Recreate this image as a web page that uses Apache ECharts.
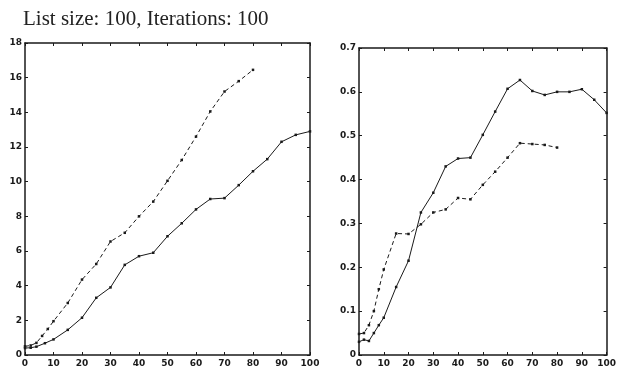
<!DOCTYPE html>
<html>
<head>
<meta charset="utf-8">
<script src="https://cdn.jsdelivr.net/npm/echarts@6/dist/echarts.min.js"></script>
<style>
    html, body { margin: 0; padding: 0; background: #fff; }
    #chart { width: 619px; height: 371px; }
</style>
</head>
<body>
<div id="chart"></div>
<script>
// 左图：运行时间
const leftSolidX = [0, 2, 4, 7, 10, 15, 20, 25, 30, 35, 40, 45, 50, 55, 60, 65, 70, 75, 80, 85, 90, 95, 100];
const leftSolidY = [0.4, 0.42, 0.48, 0.68, 0.9, 1.45, 2.15, 3.3, 3.9, 5.2, 5.7, 5.9, 6.85, 7.6, 8.4, 9.0, 9.05, 9.8, 10.6, 11.3, 12.3, 12.7, 12.9];
const leftDashX = [0, 2, 4, 6, 8, 10, 15, 20, 25, 30, 35, 40, 45, 50, 55, 60, 65, 70, 75, 80];
const leftDashY = [0.5, 0.55, 0.7, 1.1, 1.5, 1.95, 3.0, 4.35, 5.25, 6.55, 7.05, 8.0, 8.85, 10.05, 11.25, 12.6, 14.05, 15.2, 15.8, 16.45];

// 右图
const rightSolidX = [0, 2, 4, 6, 8, 10, 15, 20, 25, 30, 35, 40, 45, 50, 55, 60, 65, 70, 75, 80, 85, 90, 95, 100];
const rightSolidY = [0.03, 0.035, 0.032, 0.05, 0.068, 0.085, 0.155, 0.215, 0.325, 0.37, 0.43, 0.448, 0.45, 0.502, 0.555, 0.607, 0.627, 0.602, 0.593, 0.6, 0.6, 0.606, 0.582, 0.552];
const rightDashX = [0, 2, 4, 6, 8, 10, 15, 20, 25, 30, 35, 40, 45, 50, 55, 60, 65, 70, 75, 80];
const rightDashY = [0.048, 0.05, 0.068, 0.1, 0.15, 0.195, 0.277, 0.276, 0.298, 0.325, 0.332, 0.358, 0.355, 0.388, 0.418, 0.45, 0.483, 0.481, 0.479, 0.473];

const titleText = 'List size: 100, Iterations: 100';

const pairs = (xs, ys) => xs.map((x, i) => [x, ys[i]]);

const ink = '#1a1a1a';
const labelFont = { fontFamily: 'DejaVu Sans', fontWeight: 'bold', fontSize: 9, color: ink };

const xAxisFor = (gridIndex, position, showLabel) => ({
    type: 'value',
    gridIndex,
    position,
    min: 0,
    max: 100,
    interval: 10,
    axisLine: { show: true, onZero: false, lineStyle: { color: ink, width: 1.5 } },
    axisTick: { show: true, inside: true, length: 3, lineStyle: { color: ink } },
    axisLabel: Object.assign({ show: showLabel, margin: 4 }, labelFont),
    splitLine: { show: false },
});

const yAxisFor = (gridIndex, position, max, interval, showLabel) => ({
    type: 'value',
    gridIndex,
    position,
    min: 0,
    max,
    interval,
    axisLine: { show: true, onZero: false, lineStyle: { color: ink, width: 1.5 } },
    axisTick: { show: true, inside: true, length: 3, lineStyle: { color: ink } },
    axisLabel: Object.assign({ show: showLabel, margin: 3 }, labelFont),
    splitLine: { show: false },
});

const lineSeries = (xi, yi, data, dashed) => ({
    type: 'line',
    xAxisIndex: xi,
    yAxisIndex: yi,
    data,
    symbol: 'rect',
    symbolSize: 2.5,
    showSymbol: true,
    itemStyle: { color: ink },
    lineStyle: { color: ink, width: 1, type: dashed ? [4, 3] : 'solid' },
    animation: false,
});

const myChart = echarts.init(document.getElementById('chart'));
myChart.setOption({
    backgroundColor: '#fff',
    animation: false,
    title: {
        text: titleText,
        left: 18,
        top: 4,
        textStyle: { fontFamily: 'Liberation Serif', fontWeight: 'normal', fontSize: 21, color: '#222' },
    },
    grid: [
        { left: 25, top: 43, right: 309, bottom: 16 },
        { left: 359, top: 48, right: 11, bottom: 16 },
    ],
    xAxis: [
        xAxisFor(0, 'bottom', true),
        xAxisFor(0, 'top', false),
        xAxisFor(1, 'bottom', true),
        xAxisFor(1, 'top', false),
    ],
    yAxis: [
        yAxisFor(0, 'left', 18, 2, true),
        yAxisFor(0, 'right', 18, 2, false),
        yAxisFor(1, 'left', 0.7, 0.1, true),
        yAxisFor(1, 'right', 0.7, 0.1, false),
    ],
    series: [
        lineSeries(0, 0, pairs(leftSolidX, leftSolidY), false),
        lineSeries(0, 0, pairs(leftDashX, leftDashY), true),
        lineSeries(2, 2, pairs(rightSolidX, rightSolidY), false),
        lineSeries(2, 2, pairs(rightDashX, rightDashY), true),
    ],
});
</script>
</body>
</html>
